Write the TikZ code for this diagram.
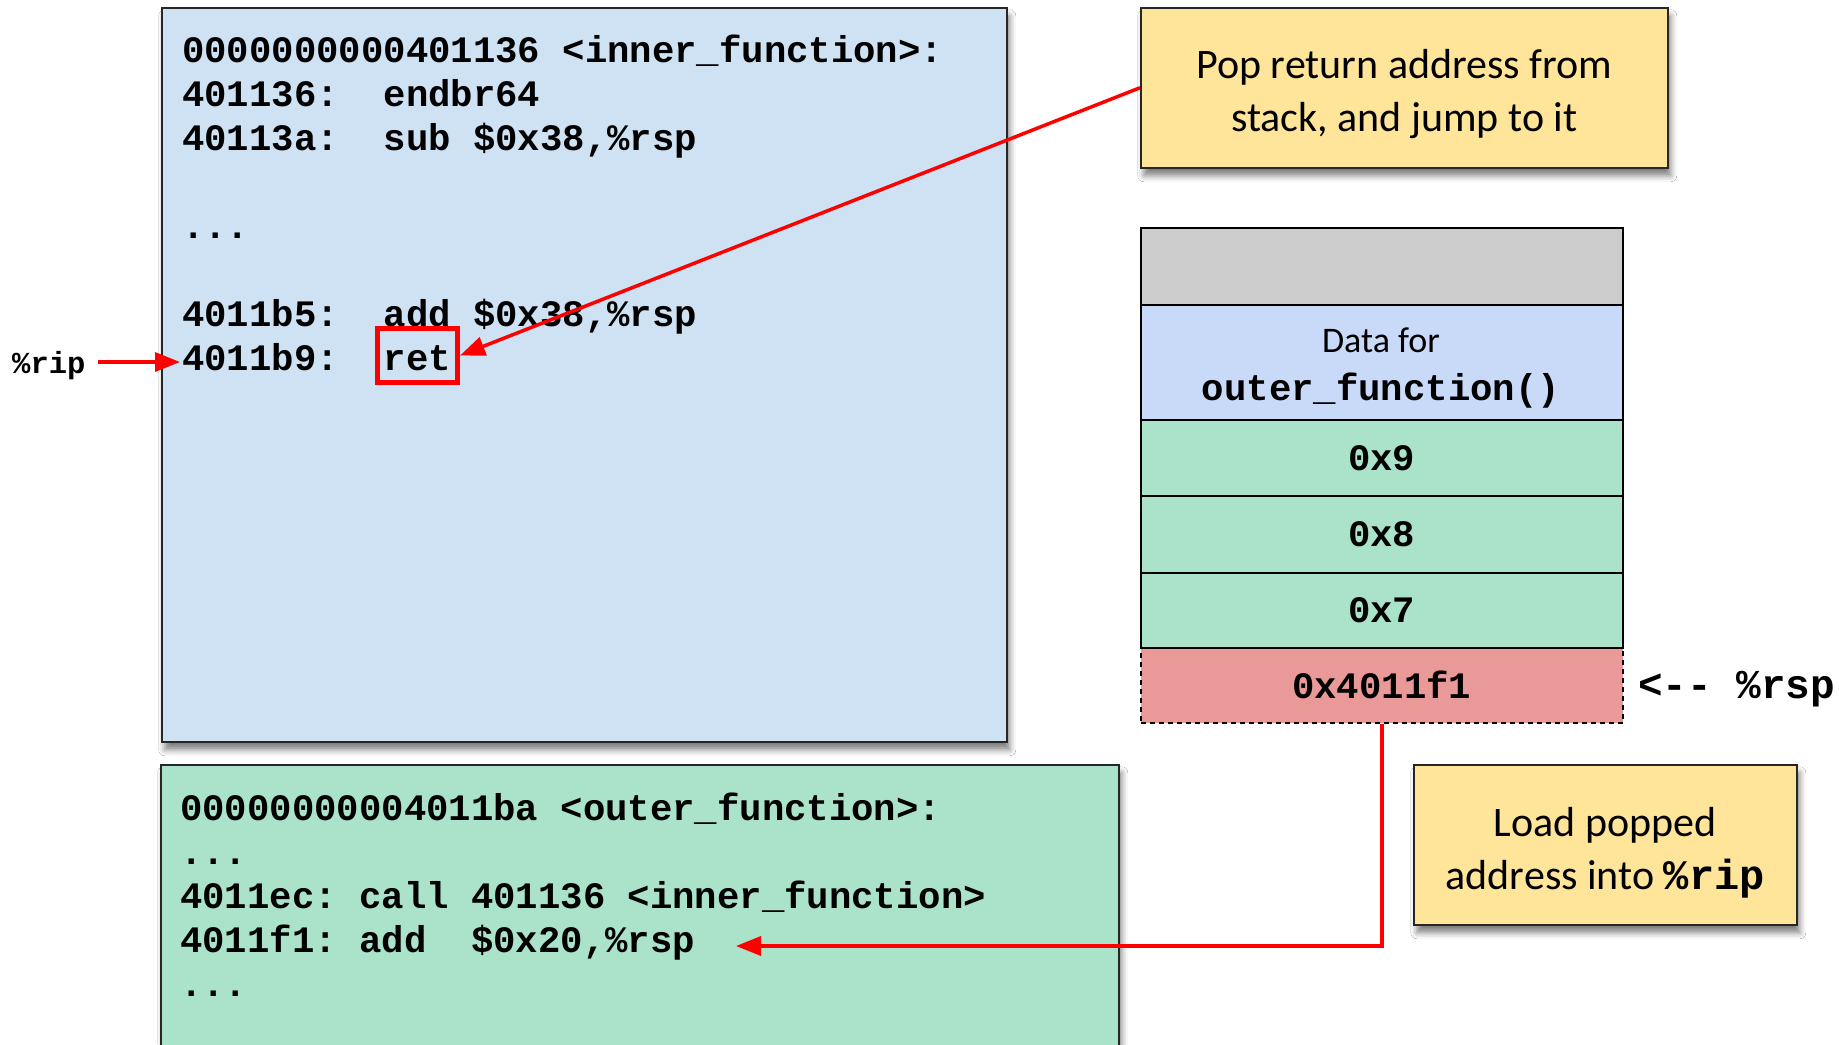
\documentclass[tikz,border=0pt]{standalone}
\usepackage{fontspec}
\setmainfont{Carlito}
\setmonofont{Liberation Mono}
\usetikzlibrary{arrows.meta,shadows.blur}

\definecolor{codeblue}{HTML}{CFE2F3}
\definecolor{codegreen}{HTML}{ABE2CA}
\definecolor{noteyellow}{HTML}{FFE599}
\definecolor{stackgray}{HTML}{CCCCCC}
\definecolor{stackblue}{HTML}{C9DAF8}
\definecolor{stackred}{HTML}{EA9999}
\definecolor{pointerred}{HTML}{FF0000}

\begin{document}
\begin{tikzpicture}[x=1pt,y=-1pt,
  code/.style={anchor=base west, inner sep=0pt, font=\fontsize{37.3}{44}\ttfamily\bfseries},
  panel/.style={draw=black!85, line width=1.5pt, anchor=north west, inner sep=0pt,
    blur shadow={shadow xshift=3pt, shadow yshift=-8pt, shadow blur radius=6pt, shadow opacity=50}},
  note/.style={panel, fill=noteyellow, align=center, font=\fontsize{42}{53}\selectfont},
  cell/.style={draw=black, line width=1.5pt, anchor=north west, minimum width=482pt,
    inner sep=0pt, align=center, font=\fontsize{37.3}{44}\ttfamily\bfseries},
  link/.style={draw=pointerred, line width=3.5pt, -{Triangle[length=25pt,width=19pt]}}
]
\useasboundingbox (0,0) rectangle (1839,1044);
\clip (0,0) rectangle (1839,1044);
\fill[white] (0,0) rectangle (1839,1044);

% code listing of inner_function
\node (innerbox) [panel, fill=codeblue, minimum width=845pt, minimum height=734pt] at (161,7) {};
\node (i1) [code] at (182,62)  {0000000000401136 <inner\_function>:};
\node (i2) [code] at (182,106) {401136:~~endbr64};
\node (i3) [code] at (182,150) {40113a:~~sub \$0x38,\%rsp};
\node (i4) [code] at (182,238) {...};
\node (i5) [code] at (182,326) {4011b5:~~add \$0x38,\%rsp};
\node (i6) [code] at (182,370) {4011b9:~~ret};
\node (retbox) [draw=pointerred, line width=5pt, minimum width=80pt, minimum height=54pt, inner sep=0pt] at (417.5,355.5) {};

% instruction pointer marker
\node (rip) [code, font=\fontsize{30.5}{36}\ttfamily\bfseries] at (12,373) {\%rip};
\coordinate (riptip) at (180,362);
\draw[link] ([xshift=12pt]rip.east |- riptip) -- (riptip);

% code listing of outer_function
\node (outerbox) [panel, fill=codegreen, minimum width=958pt, minimum height=320pt] at (160,764) {};
\node (o1) [code] at (180,820) {00000000004011ba <outer\_function>:};
\node (o2) [code] at (180,864) {...};
\node (o3) [code] at (180,908) {4011ec: call 401136 <inner\_function>};
\node (o4) [code] at (180,952) {4011f1: add~~\$0x20,\%rsp};
\node (o5) [code] at (180,996) {...};

% explanatory notes
\node (pop) [note, minimum width=527pt, minimum height=160pt] at (1140,7)
  {\rule{0pt}{42pt}Pop return address from\\stack, and jump to it};
\node (load) [note, minimum width=383pt, minimum height=160pt] at (1413,764)
  {\rule{0pt}{46pt}Load popped\\address into {\ttfamily\bfseries\%rip}};

% the stack
\node (slot) [cell, fill=stackred, dash pattern=on 5pt off 4pt, minimum height=75pt] at (1140,647) {0x4011f1};
\node (top)  [cell, fill=stackgray, minimum height=77pt] at (1140,227) {};
\node (data) [cell, fill=stackblue, minimum height=115pt] at (1140,304) {};
\node (datalabel) [align=center, inner sep=0pt, font=\fontsize{37.3}{48}\ttfamily\bfseries] at (1381,368)
  {{\fontsize{36}{48}\rmfamily\mdseries Data for}\\outer\_function()};
\node (a9) [cell, fill=codegreen, minimum height=76pt] at (1140,419) {0x9};
\node (a8) [cell, fill=codegreen, minimum height=77pt] at (1140,495) {0x8};
\node (a7) [cell, fill=codegreen, minimum height=75pt] at (1140,572) {0x7};
\node (rsp) [code, font=\fontsize{41}{48}\ttfamily\bfseries] at (1638,698) {<-- \%rsp};

% control flow of ret
\draw[link] (pop.west) -- (retbox.east);
\coordinate (addtip) at (736,946);
\draw[link] (slot.south) |- (addtip);
\end{tikzpicture}
\end{document}
